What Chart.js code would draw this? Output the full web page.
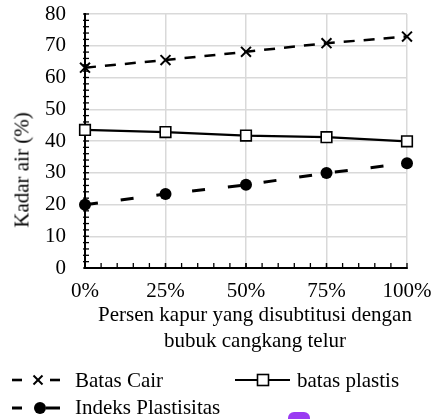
<!DOCTYPE html>
<html><head><meta charset="utf-8">
<script src="https://cdn.jsdelivr.net/npm/chart.js@4/dist/chart.umd.min.js"></script>
<style>
html,body{margin:0;padding:0;background:#fff;}
#wrap{position:relative;width:431px;height:419px;overflow:hidden;background:#fff;}
#c{position:absolute;left:0;top:0;}
.t{position:absolute;font-family:"Liberation Serif","Times New Roman",serif;font-size:21px;line-height:21px;color:#000;white-space:nowrap;}
svg{position:absolute;overflow:visible;}
</style>
</head><body>
<div id="wrap">
<canvas id="c" width="431" height="419" style="width:431px;height:419px"></canvas>
<div class="t" id="ytitle" style="left:22px;top:170px;transform:translate(-50%,-50%) rotate(-90deg);">Kadar air (%)</div>
<div class="t" id="xtitle" style="left:55px;top:302px;width:400px;text-align:center;line-height:25.5px;">Persen kapur yang disubtitusi dengan<br>bubuk cangkang telur</div>
<svg style="left:10px;top:373px" width="52" height="14">
  <line x1="2" y1="7" x2="12" y2="7" stroke="#000" stroke-width="2.6"/>
  <line x1="23.5" y1="2.5" x2="32.5" y2="11.5" stroke="#000" stroke-width="2"/>
  <line x1="23.5" y1="11.5" x2="32.5" y2="2.5" stroke="#000" stroke-width="2"/>
  <line x1="40" y1="7" x2="50" y2="7" stroke="#000" stroke-width="2.6"/>
</svg>
<div class="t" style="left:75px;top:369.5px">Batas Cair</div>
<svg style="left:233px;top:373px" width="60" height="14">
  <line x1="2" y1="7" x2="57" y2="7" stroke="#000" stroke-width="2.2"/>
  <rect x="24.5" y="1.5" width="11" height="11" fill="#fff" stroke="#000" stroke-width="1.6"/>
</svg>
<div class="t" style="left:297px;top:369.5px">batas plastis</div>
<svg style="left:10px;top:401px" width="52" height="14">
  <line x1="2" y1="7" x2="12" y2="7" stroke="#000" stroke-width="3"/>
  <circle cx="30" cy="7" r="6" fill="#000"/>
  <line x1="36" y1="7" x2="50" y2="7" stroke="#000" stroke-width="3"/>
</svg>
<div class="t" style="left:75px;top:396.5px">Indeks Plastisitas</div>
<div style="position:absolute;left:288px;top:412px;width:22px;height:10px;background:#9a3bf2;border-radius:6px 6px 0 0;"></div>
</div>
<script>
// ---- data ----
const categories = ['0%', '25%', '50%', '75%', '100%'];
const batasCair = [63.1, 65.5, 68.1, 70.8, 72.9];
const batasPlastis = [43.5, 42.8, 41.7, 41.2, 39.9];
const indeksPlastisitas = [19.9, 23.3, 26.2, 29.9, 33.0];
const yMin = 0, yMax = 80, yStep = 10;
const yMinorStep = 2;
const xMinorDiv = 5;

const FONT = {family: '"Liberation Serif", "Times New Roman", serif', size: 21, lineHeight: 1.2};

const axisTicks = {
  id: 'axisTicks',
  beforeDatasetsDraw(chart) {
    const {ctx, scales: {x, y}} = chart;
    ctx.save();
    ctx.strokeStyle = '#000';
    ctx.lineWidth = 1.3;
    const left = y.right;
    for (let v = yMin; v <= yMax; v += yMinorStep) {
      const py = y.getPixelForValue(v);
      ctx.beginPath(); ctx.moveTo(left - 2, py); ctx.lineTo(left + 4, py); ctx.stroke();
    }
    const base = y.getPixelForValue(yMin);
    for (let i = 0; i < categories.length - 1; i++) {
      for (let k = 0; k <= xMinorDiv; k++) {
        const px = x.getPixelForValue(i + k / xMinorDiv);
        ctx.beginPath(); ctx.moveTo(px, base + 1); ctx.lineTo(px, base - 5); ctx.stroke();
      }
    }
    ctx.restore();
  }
};

new Chart(document.getElementById('c'), {
  type: 'line',
  data: {
    labels: categories,
    datasets: [
      {label: 'Batas Cair', data: batasCair, borderColor: '#000', backgroundColor: '#000',
       borderWidth: 2.5, borderDash: [11, 9], pointStyle: 'crossRot', pointRadius: 7,
       pointBorderWidth: 2, pointBorderColor: '#000', tension: 0, clip: false},
      {label: 'batas plastis', data: batasPlastis, borderColor: '#000', backgroundColor: '#fff',
       borderWidth: 2.2, pointStyle: 'rect', pointRadius: 7.5, pointBorderWidth: 1.6,
       pointBackgroundColor: '#fff', pointBorderColor: '#000', tension: 0, clip: false},
      {label: 'Indeks Plastisitas', data: indeksPlastisitas, borderColor: '#000', backgroundColor: '#000',
       borderWidth: 3, borderDash: [13, 23], pointStyle: 'circle', pointRadius: 6,
       pointBackgroundColor: '#000', pointBorderColor: '#000', pointBorderWidth: 0, tension: 0, clip: false}
    ]
  },
  options: {
    responsive: false,
    animation: false,
    devicePixelRatio: 1,
    layout: {padding: {left: 0, right: 24, top: 14, bottom: 0}},
    plugins: {legend: {display: false}, tooltip: {enabled: false}, title: {display: false}},
    scales: {
      x: {
        type: 'category', offset: false,
        grid: {color: '#d9d9d9', lineWidth: 1.5, drawTicks: false},
        border: {color: '#000', width: 2},
        ticks: {font: FONT, color: '#000', padding: 11, maxRotation: 0, autoSkip: false},
        afterFit(s) { s.height = 151; s.paddingLeft = 0; s.paddingRight = 0; s.paddingTop = 0; s.paddingBottom = 0; }
      },
      y: {
        type: 'linear', min: yMin, max: yMax,
        grid: {color: '#d9d9d9', lineWidth: 1.5, drawTicks: false},
        border: {color: '#000', width: 2},
        ticks: {stepSize: yStep, font: FONT, color: '#000', padding: 19},
        afterFit(s) { s.width = 85; s.paddingLeft = 0; s.paddingRight = 0; s.paddingTop = 0; s.paddingBottom = 0; }
      }
    }
  },
  plugins: [axisTicks]
});
</script>
</body></html>
